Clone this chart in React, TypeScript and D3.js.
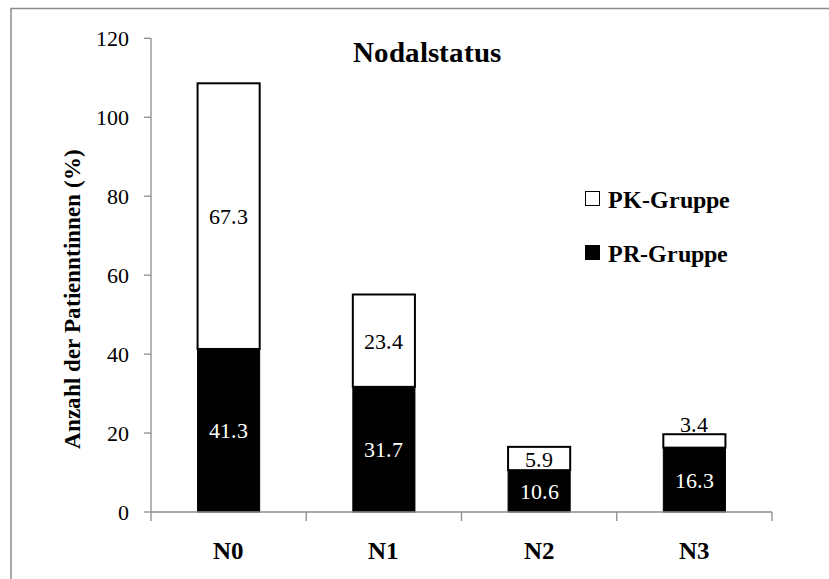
import React from "react";
import * as d3 from "d3";

// Nodal status categories and group percentages
const categories = ["N0", "N1", "N2", "N3"];
const prValues = [41.3, 31.7, 10.6, 16.3];
const pkValues = [67.3, 23.4, 5.9, 3.4];
const yTicks = [0, 20, 40, 60, 80, 100, 120];
const seriesNames = ["PK-Gruppe", "PR-Gruppe"];

const W = 829;
const H = 579;
const FONT = "ChartSerif, 'Times New Roman', 'Liberation Serif', Tinos, serif";
const AXIS = "#8c8c8c";

const fontCss = `
@font-face { font-family: "ChartSerif"; src: local("Liberation Serif"), local("LiberationSerif"), local("Times New Roman"); font-weight: 400; }
@font-face { font-family: "ChartSerif"; src: local("Liberation Serif Bold"), local("LiberationSerif-Bold"), local("Times New Roman Bold"); font-weight: 700; }
`;

export default function App() {
  const x = d3.scaleBand().domain(categories).range([151, 772]);
  const y = d3.scaleLinear().domain([0, 120]).range([512, 38.3]);
  const barW = x.bandwidth() * 0.4;
  const cx = (c: string) => (x(c) as number) + x.bandwidth() / 2;

  const rows = categories.map((c, i) => ({ cat: c, pr: prValues[i], pk: pkValues[i] }));
  const [prLayer, pkLayer] = d3.stack().keys(["pr", "pk"])(rows as any);

  return (
    <div style={{ fontFamily: FONT }}>
      <style>{fontCss}</style>
      <svg width={W} height={H} style={{ position: "absolute", left: 0, top: 0, fontFamily: FONT }}>
        {/* chart frame */}
        <rect x={11} y={8.5} width={W + 20} height={H + 20} fill="#fff" stroke={AXIS} strokeWidth={1.5} />

        {/* title */}
        <text x={427} y={62} textAnchor="middle" style={{ fontFamily: FONT, fontWeight: 700, fontSize: 29 }}>
          Nodalstatus
        </text>

        {/* y axis */}
        <line x1={151} x2={151} y1={y(120)} y2={y(0)} stroke={AXIS} strokeWidth={1.3} />
        {yTicks.map((t) => (
          <g key={t}>
            <line x1={144} x2={151} y1={y(t)} y2={y(t)} stroke={AXIS} strokeWidth={1.3} />
            <text x={129} y={y(t) + 8} textAnchor="end" style={{ fontFamily: FONT, fontSize: 22 }}>
              {t}
            </text>
          </g>
        ))}
        <text transform="translate(80, 299) rotate(-90)" textAnchor="middle" style={{ fontFamily: FONT, fontWeight: 700, fontSize: 23 }}>
          Anzahl der Patienntinnen (%)
        </text>

        {/* bars */}
        {prLayer.map((d: any, i: number) => (
          <rect key={"pr" + i} x={cx(categories[i]) - barW / 2} y={y(d[1])} width={barW} height={y(d[0]) - y(d[1])} fill="#000" stroke="#000" strokeWidth={1} />
        ))}
        {pkLayer.map((d: any, i: number) => (
          <rect key={"pk" + i} x={cx(categories[i]) - barW / 2} y={y(d[1])} width={barW} height={y(d[0]) - y(d[1])} fill="#fff" stroke="#000" strokeWidth={2} />
        ))}

        {/* value labels */}
        {prLayer.map((d: any, i: number) => (
          <text key={"prl" + i} x={cx(categories[i])} y={y((d[0] + d[1]) / 2) + 8} textAnchor="middle" fill="#fff" style={{ fontFamily: FONT, fontSize: 22 }}>
            {prValues[i].toFixed(1)}
          </text>
        ))}
        {pkLayer.map((d: any, i: number) => {
          const inside = y(d[0]) - y(d[1]) > 20;
          return (
            <text
              key={"pkl" + i}
              x={cx(categories[i])}
              y={inside ? y((d[0] + d[1]) / 2) + 8 : y(d[1]) - 2}
              textAnchor="middle"
              fill="#000"
              style={{ fontFamily: FONT, fontSize: 22 }}
            >
              {pkValues[i].toFixed(1)}
            </text>
          );
        })}

        {/* x axis */}
        <line x1={151} x2={772} y1={y(0)} y2={y(0)} stroke={AXIS} strokeWidth={1.3} />
        {[...categories.map((c) => x(c) as number), 772].map((px, i) => (
          <line key={"xt" + i} x1={px} x2={px} y1={y(0)} y2={y(0) + 9} stroke={AXIS} strokeWidth={1.3} />
        ))}
        {categories.map((c) => (
          <text key={c} x={cx(c)} y={559} textAnchor="middle" style={{ fontFamily: FONT, fontWeight: 700, fontSize: 25 }}>
            {c}
          </text>
        ))}

        {/* legend */}
        {seriesNames.map((name, i) => (
          <g key={name} transform={`translate(585, ${191 + i * 54})`}>
            <rect x={0.5} y={0.5} width={14} height={14} fill={i === 0 ? "#fff" : "#000"} stroke="#000" strokeWidth={1} />
            <text x={23} y={17} style={{ fontFamily: FONT, fontWeight: 700, fontSize: 24 }}>
              {name}
            </text>
          </g>
        ))}
      </svg>
    </div>
  );
}
